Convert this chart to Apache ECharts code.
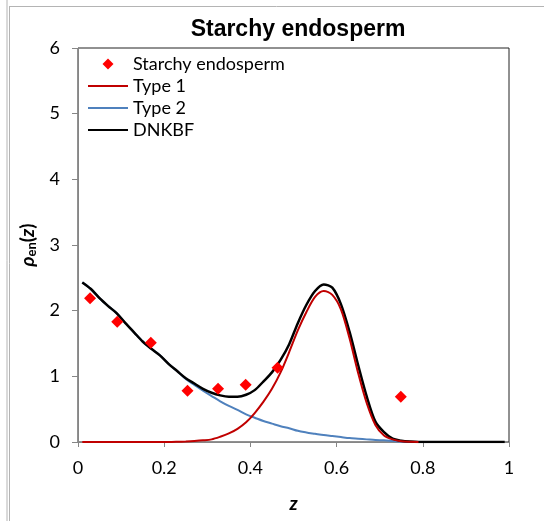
<!DOCTYPE html>
<html><head><meta charset="utf-8">
<script src="https://cdn.jsdelivr.net/npm/echarts@6/dist/echarts.min.js"></script>
<style>html,body{margin:0;padding:0;background:#fff}#c{width:544px;height:521px}</style>
</head><body><div id="c"></div>
<script>
var titleText = 'Starchy endosperm';
var seriesNames = ['Starchy endosperm', 'Type 1', 'Type 2', 'DNKBF'];
var xTicks = [0, 0.2, 0.4, 0.6, 0.8, 1];
var yTicks = [0, 1, 2, 3, 4, 5, 6];

// measured points
var measZ   = [0.028, 0.091, 0.169, 0.254, 0.325, 0.389, 0.463, 0.749];
var measVal = [2.19, 1.83, 1.51, 0.78, 0.81, 0.87, 1.13, 0.69];

// curve abscissae
var zGrid = [0.01,0.03,0.05,0.07,0.09,0.11,0.13,0.15,0.17,0.19,
             0.21,0.23,0.25,0.27,0.29,0.31,0.33,0.35,0.37,0.39,
             0.41,0.43,0.45,0.47,0.49,0.51,0.53,0.55,0.57,0.59,
             0.61,0.63,0.65,0.67,0.69,0.71,0.73,0.75,0.77,0.79,
             0.81,0.83,0.85,0.87,0.89,0.91,0.93,0.95,0.97,0.99];

var type1 = [0,0,0,0,0,0,0,0,0,0,
             0,0.003,0.008,0.015,0.025,0.04,0.08,0.13,0.20,0.30,
             0.44,0.61,0.81,1.06,1.37,1.70,1.98,2.21,2.30,2.24,
             2.02,1.58,1.05,0.59,0.26,0.10,0.04,0.012,0.003,0,
             null,null,null,null,null,null,null,null,null,null];

var type2 = [2.43,2.33,2.19,2.07,1.96,1.81,1.67,1.53,1.42,1.32,
             1.19,1.08,0.96,0.87,0.78,0.70,0.62,0.55,0.49,0.42,
             0.37,0.32,0.28,0.24,0.21,0.17,0.145,0.125,0.105,0.09,
             0.075,0.06,0.05,0.04,0.03,0.025,0.015,0.005,0,null,
             null,null,null,null,null,null,null,null,null,null];

var dnkbf = [2.43,2.33,2.19,2.07,1.96,1.81,1.67,1.53,1.42,1.32,
             1.19,1.08,0.97,0.89,0.81,0.75,0.71,0.69,0.69,0.72,
             0.79,0.92,1.06,1.25,1.49,1.81,2.09,2.30,2.40,2.35,
             2.10,1.68,1.17,0.69,0.31,0.15,0.05,0.02,0.006,0,
             0,0,0,0,0,0,0,0,0,0];

function pairs(xs, ys) {
  var out = [];
  for (var i = 0; i < xs.length; i++) if (ys[i] !== null) out.push([xs[i], ys[i]]);
  return out;
}

var chart = echarts.init(document.getElementById('c'), null, {renderer: 'canvas'});
var tickFont = 'Lato';
chart.setOption({
  animation: false,
  backgroundColor: '#fff',
  title: {
    text: titleText, left: 293, top: 13, textAlign: 'center',
    textStyle: {fontFamily: 'Liberation Sans', fontWeight: 'bold', fontSize: 23, color: '#000'}
  },
  grid: {left: 78, top: 48, right: 35, bottom: 79, show: true, borderColor: '#222', borderWidth: 1, backgroundColor: 'transparent'},
  legend: {
    orient: 'vertical', left: 82, top: 49, itemWidth: 40, itemHeight: 11, itemGap: 2, itemTextGap: 4,
    symbolKeepAspect: true,
    textStyle: {fontFamily: tickFont, fontSize: 18, color: '#000', lineHeight: 20},
    data: [
      {name: seriesNames[0], icon: 'path://M5,0 L10,5 L5,10 L0,5 Z', itemStyle: {color: '#ff0000', opacity: 1}},
      {name: seriesNames[1]},
      {name: seriesNames[2]},
      {name: seriesNames[3]}
    ]
  },
  xAxis: {
    type: 'value', min: xTicks[0], max: xTicks[xTicks.length - 1], interval: 0.2,
    name: '{i|z}', nameLocation: 'middle', nameGap: 52,
    nameTextStyle: {rich: {i: {fontFamily: tickFont, fontStyle: 'italic', fontWeight: 'bold', fontSize: 19, color: '#000'}}},
    axisLine: {show: true, lineStyle: {color: '#868686', width: 1}},
    axisTick: {show: true, length: 5, lineStyle: {color: '#868686'}},
    splitLine: {show: false},
    axisLabel: {margin: 17, fontFamily: tickFont, fontSize: 18, color: '#000',
      formatter: function (v) { return String(Math.round(v * 10) / 10); }}
  },
  yAxis: {
    type: 'value', min: yTicks[0], max: yTicks[yTicks.length - 1], interval: 1,
    name: '{i|ρ}{s|en}{n|(}{i|z}{n|)}', nameLocation: 'middle', nameGap: 40, nameRotate: 90,
    nameTextStyle: {rich: {
      i: {fontFamily: tickFont, fontStyle: 'italic', fontWeight: 'bold', fontSize: 19, color: '#000', lineHeight: 20},
      n: {fontFamily: tickFont, fontWeight: 'bold', fontSize: 19, color: '#000', lineHeight: 20},
      s: {fontFamily: tickFont, fontWeight: 'bold', fontSize: 13, color: '#000', lineHeight: 8, verticalAlign: 'bottom'}
    }},
    axisLine: {show: true, lineStyle: {color: '#868686', width: 1}},
    axisTick: {show: true, length: 6, lineStyle: {color: '#868686'}},
    splitLine: {show: false},
    axisLabel: {margin: 18, fontFamily: tickFont, fontSize: 18, color: '#000'}
  },
  graphic: [
    {type: 'line', shape: {x1: 7, y1: 0, x2: 7, y2: 521}, style: {stroke: '#b4b4b4', lineWidth: 1}},
    {type: 'line', shape: {x1: 9.5, y1: 6, x2: 9.5, y2: 521}, style: {stroke: '#b4b4b4', lineWidth: 1}},
    {type: 'line', shape: {x1: 9, y1: 6.5, x2: 544, y2: 6.5}, style: {stroke: '#b4b4b4', lineWidth: 1}}
  ],
  series: [
    {name: seriesNames[0], type: 'scatter', symbol: 'diamond', symbolSize: 12, z: 10,
     itemStyle: {color: '#ff0000', opacity: 1}, data: pairs(measZ, measVal)},
    {name: seriesNames[1], type: 'line', symbol: 'none', z: 5, smooth: 0.3,
     lineStyle: {color: '#c00000', width: 2}, itemStyle: {color: '#c00000', opacity: 0}, data: pairs(zGrid, type1)},
    {name: seriesNames[2], type: 'line', symbol: 'none', z: 3, smooth: 0.3,
     lineStyle: {color: '#4f81bd', width: 2}, itemStyle: {color: '#4f81bd', opacity: 0}, data: pairs(zGrid, type2)},
    {name: seriesNames[3], type: 'line', symbol: 'none', z: 4, smooth: 0.3,
     lineStyle: {color: '#000', width: 2.5}, itemStyle: {color: '#000', opacity: 0}, data: pairs(zGrid, dnkbf)}
  ]
});
</script></body></html>
